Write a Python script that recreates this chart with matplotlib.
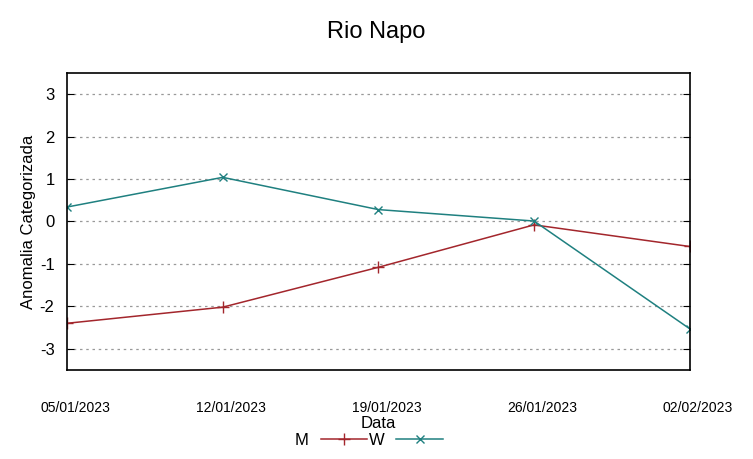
import matplotlib.pyplot as plt
import matplotlib.transforms as mtransforms

plt.rcParams['font.family'] = ['Liberation Sans', 'DejaVu Sans']
plt.rcParams['axes.unicode_minus'] = False

datas = ['05/01/2023', '12/01/2023', '19/01/2023', '26/01/2023', '02/02/2023']
serie_m = [-2.40, -2.02, -1.08, -0.08, -0.59]
serie_w = [0.34, 1.04, 0.28, 0.01, -2.53]

fig = plt.figure(figsize=(7.53, 4.59), dpi=100)
ax = fig.add_axes([0.089, 0.194, 0.827, 0.647])

x = list(range(len(datas)))
l_m, = ax.plot(x, serie_m, color='#a3262c', marker='+', markersize=8, linewidth=1.1, label='M')
l_w, = ax.plot(x, serie_w, color='#1f8080', marker='x', markersize=6, linewidth=1.1, label='W')

ax.set_xlim(0, len(datas) - 1)
ax.set_ylim(-3.5, 3.5)
ax.set_yticks([-3, -2, -1, 0, 1, 2, 3])
ax.set_xticks(x)
ax.set_xticklabels(datas, fontsize=10)

ax.tick_params(axis='y', direction='in', length=5, right=True, labelsize=12, pad=9)
ax.tick_params(axis='x', length=0, pad=22)
# rotulos levemente deslocados para a direita, como no original
off = mtransforms.ScaledTranslation(8 / 100, 0, fig.dpi_scale_trans)
for lbl in ax.get_xticklabels():
    lbl.set_transform(lbl.get_transform() + off)

ax.grid(True, axis='y', linestyle=(0, (2, 3)), color='#999999', linewidth=0.9)
for s in ax.spines.values():
    s.set_linewidth(1.2)

ax.set_xlabel('Data', fontsize=12, labelpad=1)
ax.set_ylabel('Anomalia Categorizada', fontsize=12)
ax.yaxis.set_label_coords(-0.05, 0.5)
fig.suptitle('Rio Napo', fontsize=17, y=0.955)

fig.legend(handles=[l_m, l_w], loc='center', bbox_to_anchor=(0.49, 0.04), ncol=2,
           frameon=False, markerfirst=False, fontsize=12, handlelength=2.8,
           columnspacing=0.1, handletextpad=0.7, borderpad=0)

plt.savefig('out.png', dpi=100)
